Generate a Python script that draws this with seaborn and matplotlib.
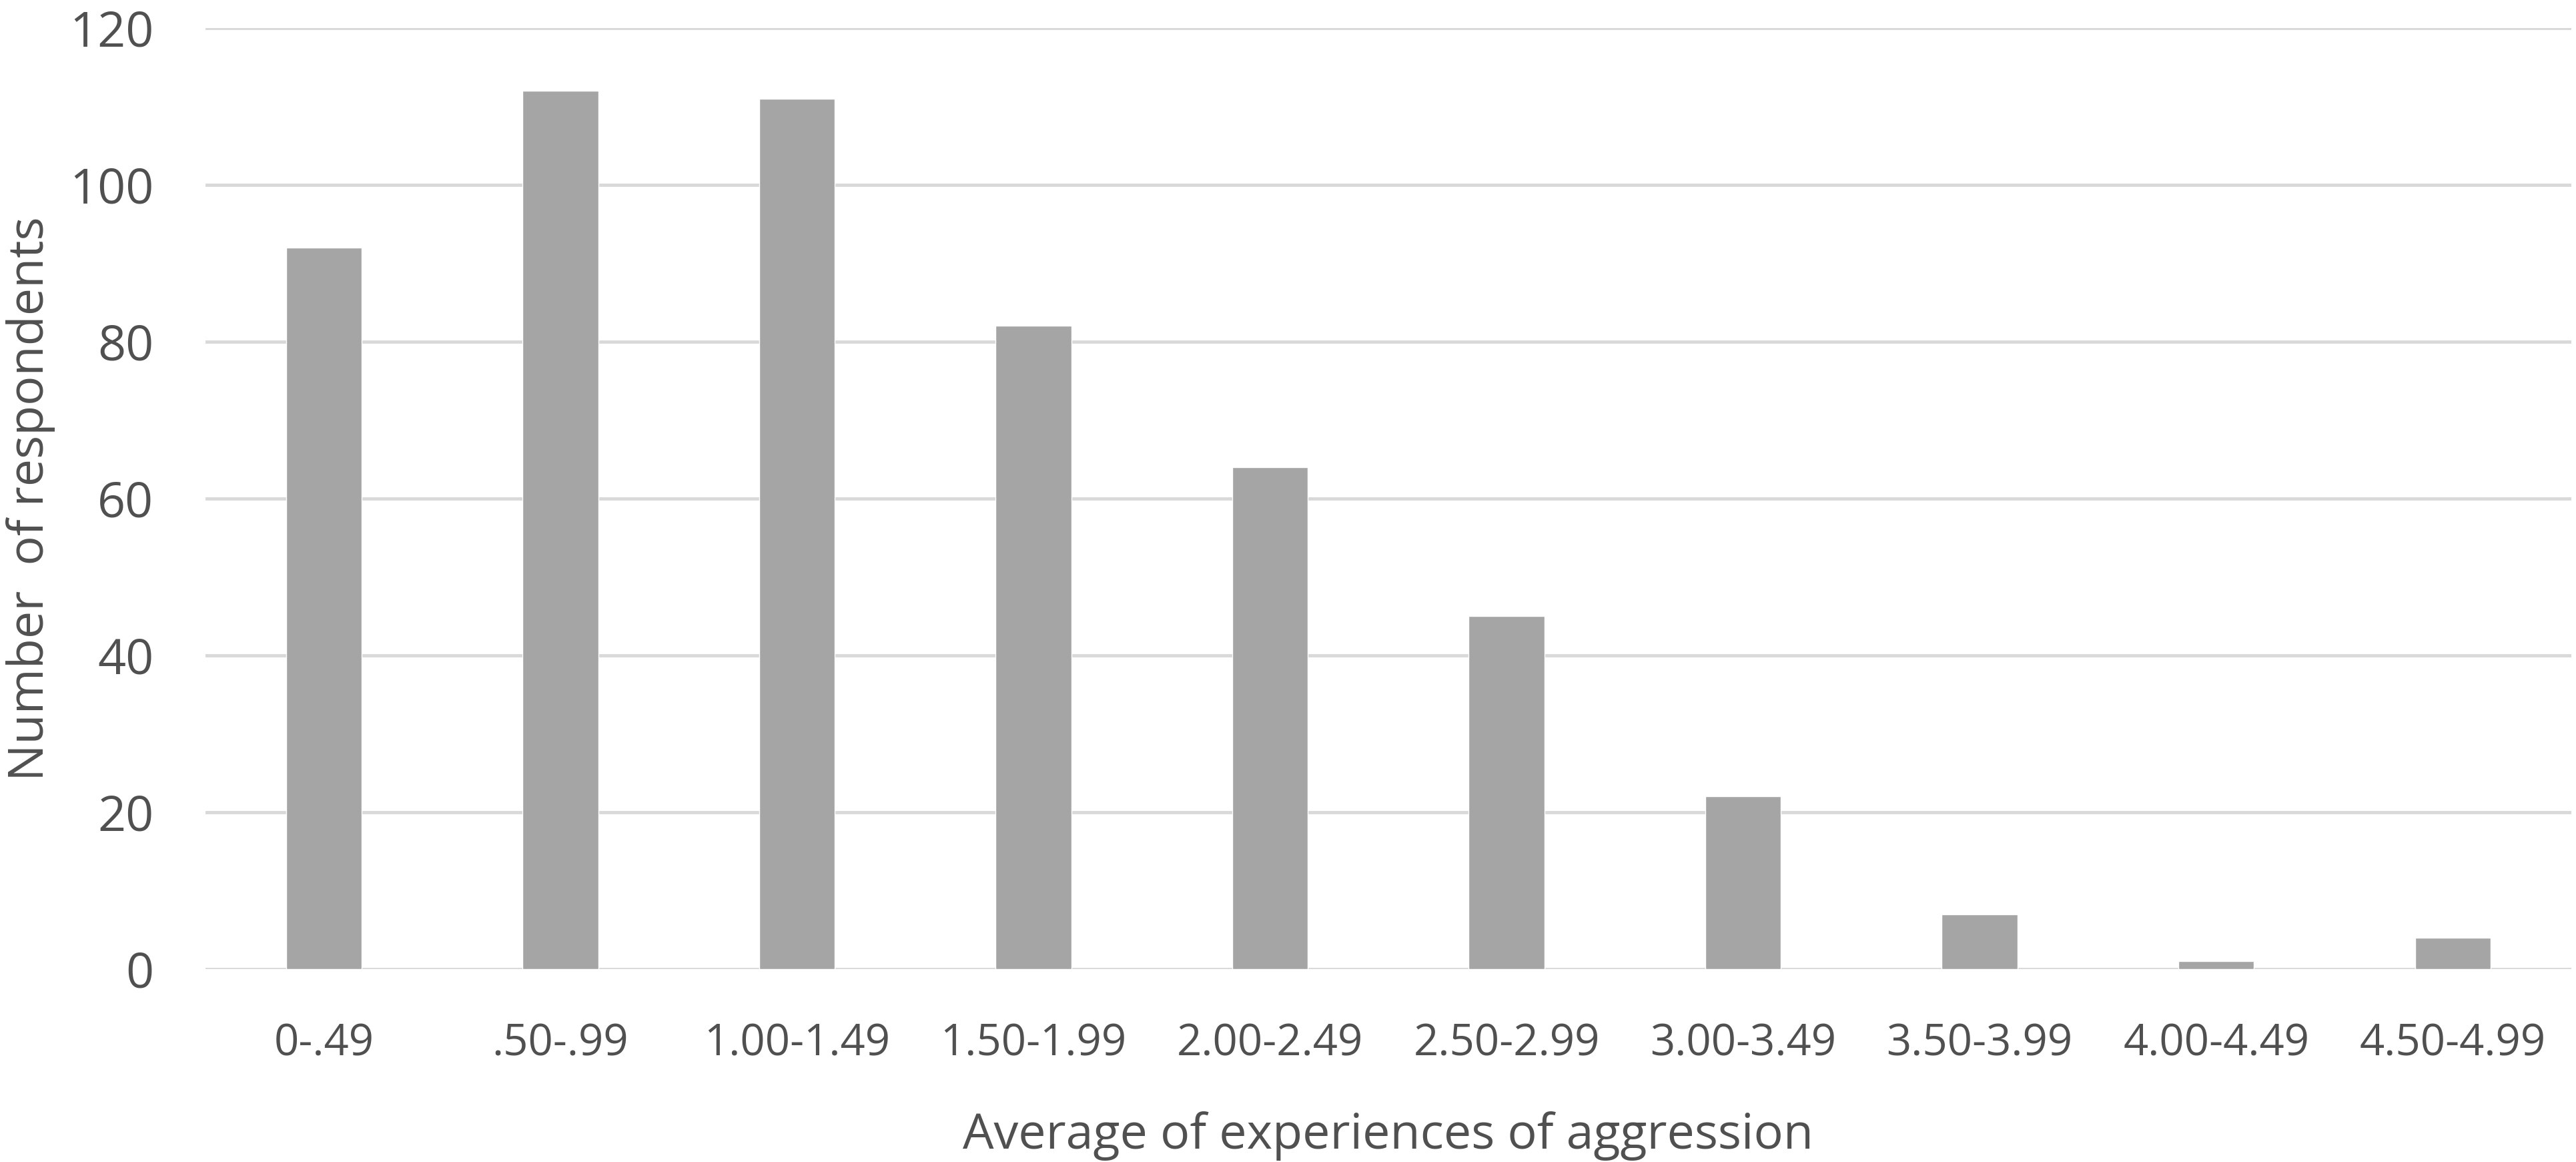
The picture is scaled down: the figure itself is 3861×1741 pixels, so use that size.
import matplotlib
matplotlib.use("Agg")
import matplotlib.pyplot as plt
import seaborn as sns
import pandas as pd

categories = ["0-.49", ".50-.99", "1.00-1.49", "1.50-1.99", "2.00-2.49",
              "2.50-2.99", "3.00-3.49", "3.50-3.99", "4.00-4.49", "4.50-4.99"]
counts = [92, 112, 111, 82, 64, 45, 22, 7, 1, 4]
yticks = [0, 20, 40, 60, 80, 100, 120]

sns.set_style("white")
plt.rcParams['font.family'] = ['Open Sans', 'DejaVu Sans']

df = pd.DataFrame({"range": categories, "count": counts})

fig = plt.figure(figsize=(38.62, 17.41), dpi=100)
ax = fig.add_axes([0.0798, 0.166, 0.918, 0.8099])

ax.set_axisbelow(True)
ax.yaxis.grid(True, color="#d9d9d9", linewidth=3.5)
sns.barplot(data=df, x="range", y="count", color="#a5a5a5", saturation=1,
            width=0.32, ax=ax, zorder=2)

ax.set_ylim(0, 120)
ax.set_xlim(-0.5, len(categories) - 0.5)
ax.set_yticks(yticks)
for s in ax.spines.values():
    s.set_visible(False)
ax.tick_params(axis='both', length=0, colors="#505050")
ax.tick_params(axis='x', pad=57, labelsize=47)
ax.tick_params(axis='y', pad=56, labelsize=53)
ax.set_xlabel("Average of experiences of aggression", fontsize=53, color="#505050", labelpad=49)
ax.set_ylabel("Number  of respondents", fontsize=53, color="#505050", labelpad=15)

fig.savefig("out.png", dpi=100)
